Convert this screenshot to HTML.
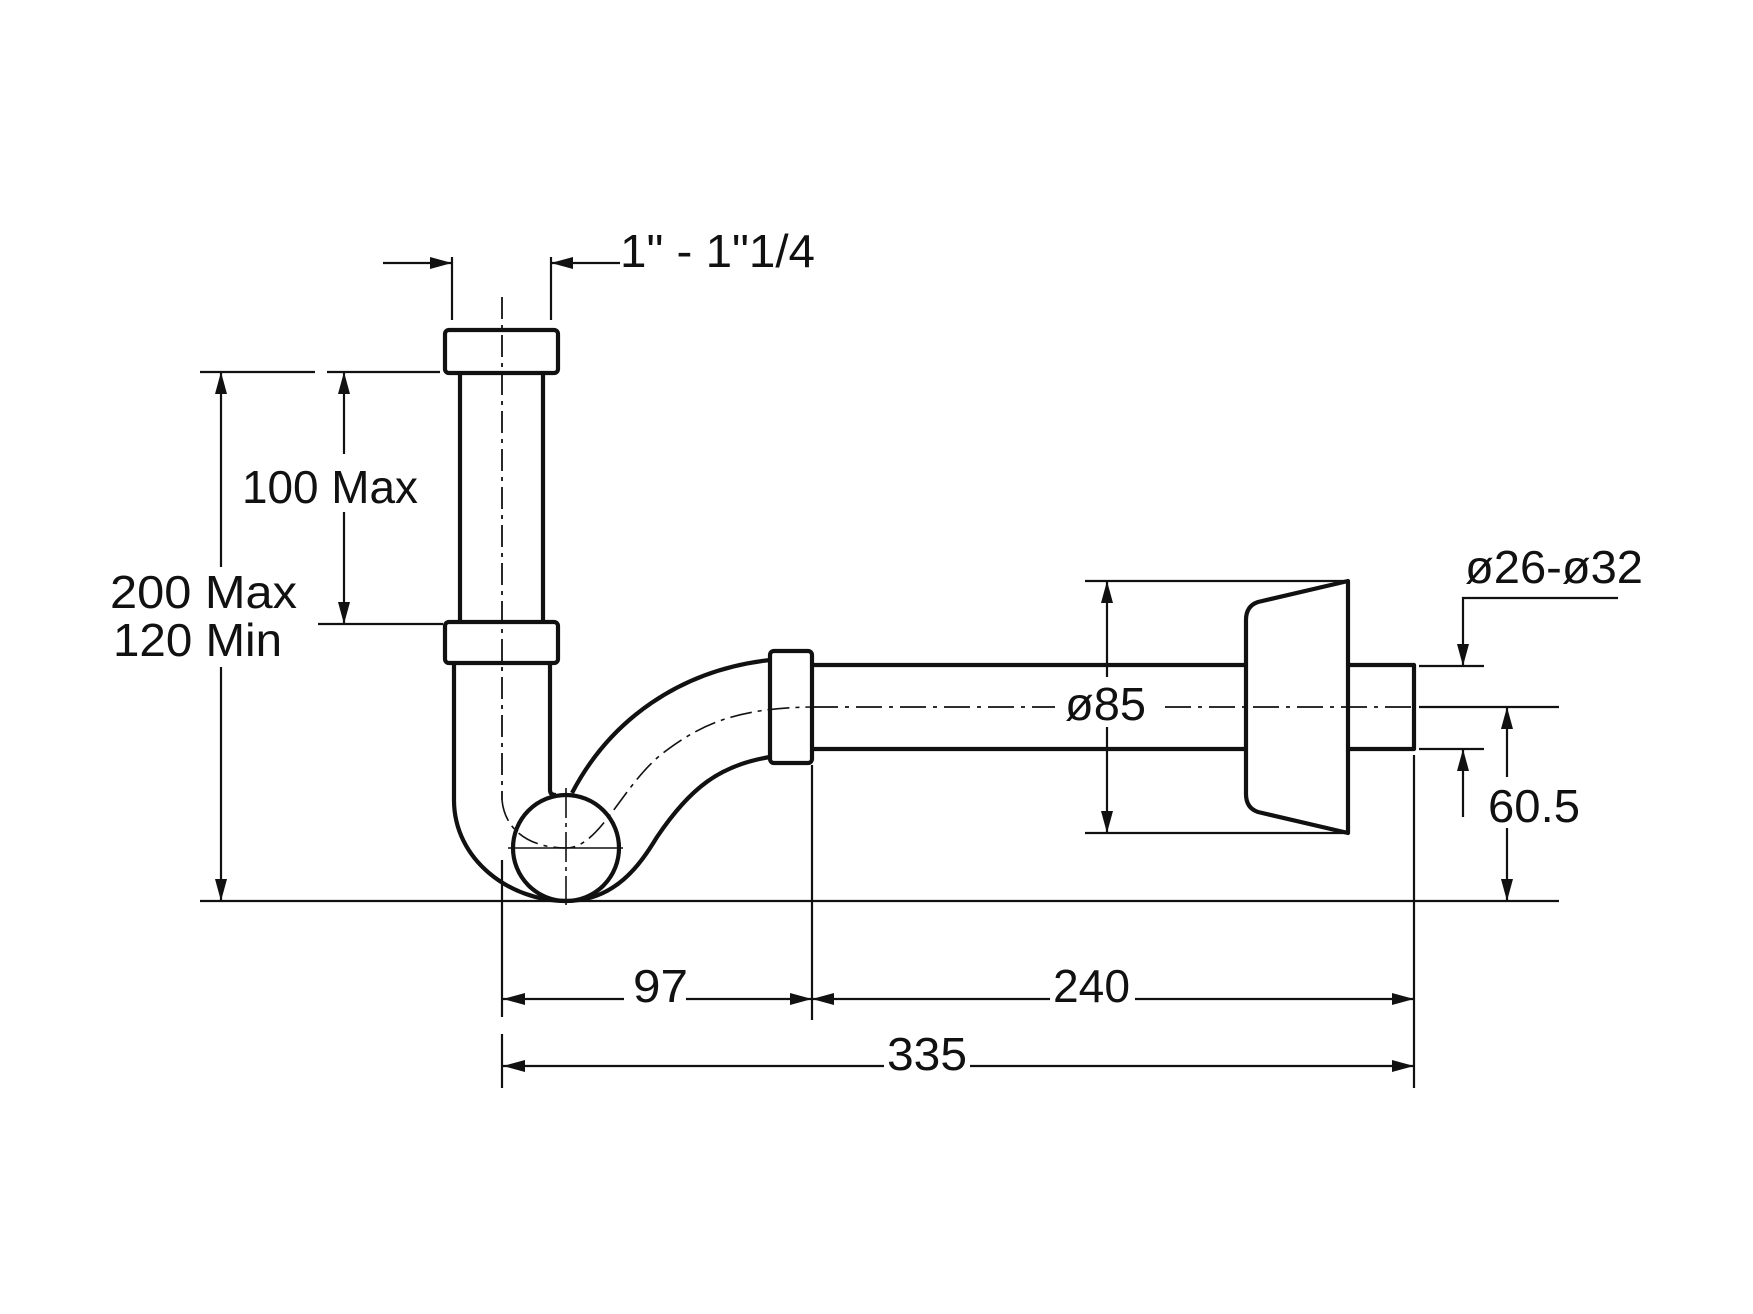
<!DOCTYPE html>
<html><head><meta charset="utf-8"><style>html,body{margin:0;padding:0;background:#fff}svg{display:block}</style></head>
<body>
<svg width="1753" height="1314" viewBox="0 0 1753 1314" xmlns="http://www.w3.org/2000/svg">
<rect width="1753" height="1314" fill="#fff"/>
<g fill="none" stroke="#111" stroke-width="2.2">
  <!-- ground -->
  <line x1="200" y1="901" x2="1559" y2="901"/>
  <!-- top dim -->
  <line x1="452" y1="257" x2="452" y2="320"/>
  <line x1="551" y1="257" x2="551" y2="320"/>
  <line x1="383" y1="263" x2="452" y2="263"/>
  <line x1="551" y1="263" x2="620" y2="263"/>
  <!-- left ext lines -->
  <line x1="200" y1="372" x2="315" y2="372"/>
  <line x1="327" y1="372" x2="440" y2="372"/>
  <line x1="318" y1="624" x2="443" y2="624"/>
  <!-- 200 max -->
  <line x1="221" y1="372" x2="221" y2="567"/>
  <line x1="221" y1="667" x2="221" y2="901"/>
  <!-- 100 max -->
  <line x1="344" y1="372" x2="344" y2="454"/>
  <line x1="344" y1="512" x2="344" y2="624"/>
  <!-- center vertical -->
  <line x1="502" y1="297" x2="502" y2="800" stroke-dasharray="22,6,4,6" stroke-width="1.8"/>
  <line x1="502" y1="860" x2="502" y2="1017"/>
  <line x1="502" y1="1034" x2="502" y2="1088"/>
  <!-- ext verticals -->
  <line x1="812" y1="765" x2="812" y2="1020"/>
  <line x1="1414" y1="755" x2="1414" y2="1088"/>
  <!-- bottom dims -->
  <line x1="503" y1="999" x2="624" y2="999"/>
  <line x1="686" y1="999" x2="812" y2="999"/>
  <line x1="812" y1="999" x2="1050" y2="999"/>
  <line x1="1135" y1="999" x2="1414" y2="999"/>
  <line x1="503" y1="1066" x2="884" y2="1066"/>
  <line x1="970" y1="1066" x2="1414" y2="1066"/>
  <!-- ø85 -->
  <line x1="1085" y1="581" x2="1348" y2="581"/>
  <line x1="1085" y1="833" x2="1348" y2="833"/>
  <line x1="1107" y1="581" x2="1107" y2="677"/>
  <line x1="1107" y1="727" x2="1107" y2="833"/>
  <!-- centerline horizontal -->
  <line x1="812" y1="707" x2="1055" y2="707" stroke-dasharray="26,7,4,7" stroke-width="1.8"/>
  <line x1="1165" y1="707" x2="1414" y2="707" stroke-dasharray="26,7,4,7" stroke-width="1.8"/>
  <line x1="1419" y1="707" x2="1559" y2="707"/>
  <line x1="1419" y1="666" x2="1484" y2="666"/>
  <line x1="1419" y1="749" x2="1484" y2="749"/>
  <polyline points="1618,598 1463,598 1463,666"/>
  <line x1="1463" y1="749" x2="1463" y2="817"/>
  <line x1="1507" y1="707" x2="1507" y2="777"/>
  <line x1="1507" y1="828" x2="1507" y2="901"/>
  <!-- circle crosshair -->
  <line x1="508" y1="848" x2="623" y2="848" stroke-width="1.6"/>
  <line x1="566" y1="788" x2="566" y2="905" stroke-width="1.6" stroke-dasharray="30,5,4,5"/>
  <!-- dashed trap centerline -->
  <path d="M502,800 C505,832 532,848 566,848 C600,848 622,785 663,753 C700,725 735,708 812,707" stroke-width="1.6" stroke-dasharray="22,6,4,6"/>
</g>
<g fill="none" stroke="#111" stroke-width="4.2" stroke-linejoin="round">
  <rect x="445" y="330" width="113" height="43" rx="4"/>
  <line x1="460" y1="373" x2="460" y2="622"/>
  <line x1="543" y1="373" x2="543" y2="622"/>
  <rect x="445" y="622" width="113" height="41" rx="4"/>
  <path d="M454,663 L454,800 C454,860 510,901 566,901 C615,901 640,865 657,837 C690,788 720,765 770,757"/>
  <path d="M550,663 L550,790 Q550,795 556,795"/>
  <path d="M572,793 C610,720 680,670 770,660"/>
  <circle cx="566" cy="848" r="53"/>
  <rect x="770" y="651" width="42" height="112" rx="4"/>
  <line x1="812" y1="665" x2="1246" y2="665"/>
  <line x1="812" y1="749" x2="1246" y2="749"/>
  <path d="M1246,620 Q1246,606 1258,602 L1348,581 L1348,833 L1258,812 Q1246,808 1246,794 Z"/>
  <polyline points="1348,665 1414,665 1414,749 1348,749"/>
</g>
<g fill="#111">
  <polygon points="430,257 452,263 430,269"/>
  <polygon points="573,257 551,263 573,269"/>
  <polygon points="215,394 221,372 227,394"/>
  <polygon points="215,879 221,901 227,879"/>
  <polygon points="338,394 344,372 350,394"/>
  <polygon points="338,602 344,624 350,602"/>
  <polygon points="1101,603 1107,581 1113,603"/>
  <polygon points="1101,811 1107,833 1113,811"/>
  <polygon points="1457,644 1463,666 1469,644"/>
  <polygon points="1457,771 1463,749 1469,771"/>
  <polygon points="1501,729 1507,707 1513,729"/>
  <polygon points="1501,879 1507,901 1513,879"/>
  <polygon points="525,993 503,999 525,1005"/>
  <polygon points="790,993 812,999 790,1005"/>
  <polygon points="834,993 812,999 834,1005"/>
  <polygon points="1392,993 1414,999 1392,1005"/>
  <polygon points="525,1060 503,1066 525,1072"/>
  <polygon points="1392,1060 1414,1066 1392,1072"/>
</g>
<g font-family="Liberation Sans, Arial, sans-serif" font-size="46" fill="#111">
  <text x="620" y="267" textLength="195" lengthAdjust="spacingAndGlyphs">1" - 1"1/4</text>
  <text x="242" y="503" textLength="176" lengthAdjust="spacingAndGlyphs">100 Max</text>
  <text x="110" y="608" textLength="187" lengthAdjust="spacingAndGlyphs">200 Max</text>
  <text x="113" y="656" textLength="169" lengthAdjust="spacingAndGlyphs">120 Min</text>
  <text x="1065" y="720" textLength="81" lengthAdjust="spacingAndGlyphs">ø85</text>
  <text x="1465" y="583" textLength="178" lengthAdjust="spacingAndGlyphs">ø26-ø32</text>
  <text x="1488" y="822" textLength="92" lengthAdjust="spacingAndGlyphs">60.5</text>
  <text x="633" y="1002" textLength="55" lengthAdjust="spacingAndGlyphs">97</text>
  <text x="1053" y="1002" textLength="77" lengthAdjust="spacingAndGlyphs">240</text>
  <text x="887" y="1070" textLength="80" lengthAdjust="spacingAndGlyphs">335</text>
</g>
</svg>
</body></html>
